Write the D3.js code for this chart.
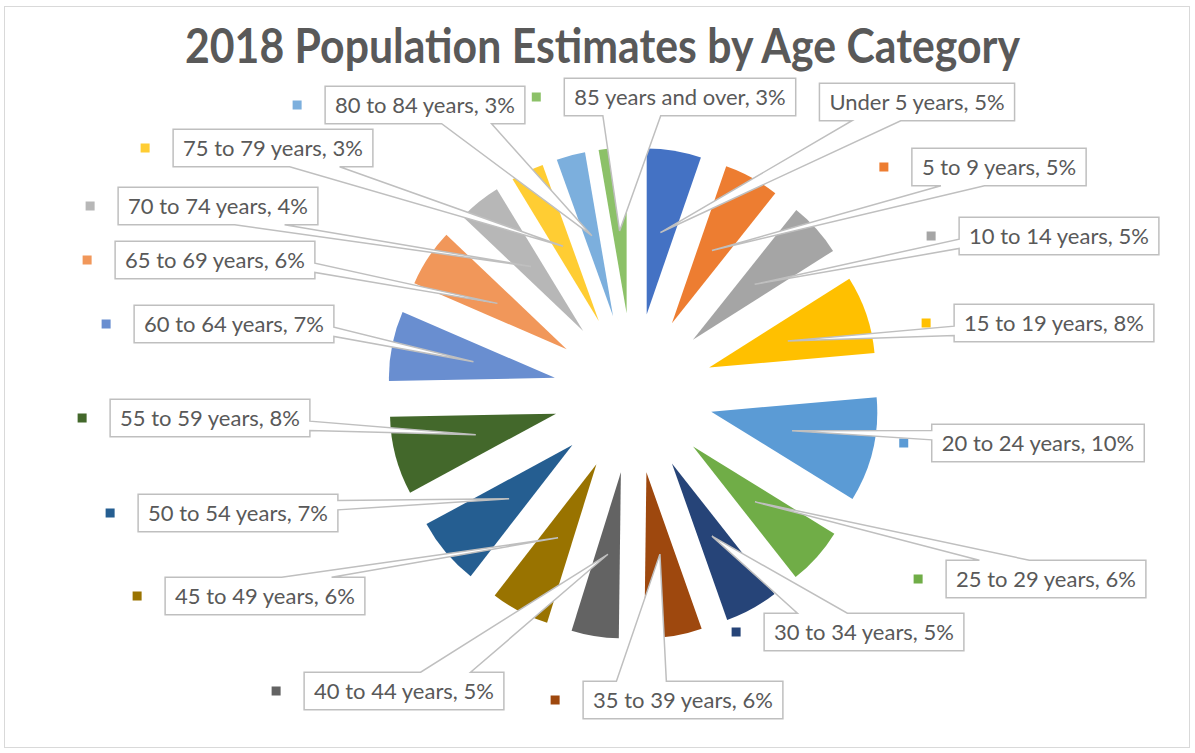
<!DOCTYPE html>
<html>
<head>
<meta charset="utf-8">
<script src="https://cdn.jsdelivr.net/npm/d3@7"></script>
<style>
  body { margin: 0; background: #fff; }
  svg { display: block; }
</style>
</head>
<body>
<svg width="1195" height="753"></svg>
<script>
// age groups, clockwise from 12 o'clock
var categories = ["Under 5 years", "5 to 9 years", "10 to 14 years", "15 to 19 years",
  "20 to 24 years", "25 to 29 years", "30 to 34 years", "35 to 39 years", "40 to 44 years",
  "45 to 49 years", "50 to 54 years", "55 to 59 years", "60 to 64 years", "65 to 69 years",
  "70 to 74 years", "75 to 79 years", "80 to 84 years", "85 years and over"];

// share of population, %
var shares = [5.3, 5.4, 5.3, 7.6, 10.2, 5.6, 5.2, 5.6, 4.6, 5.7, 6.6, 7.6, 6.8, 5.6, 4.2, 3.2, 2.8, 2.7];

var colors = ["#4472C4", "#ED7D31", "#A5A5A5", "#FFC000", "#5B9BD5", "#70AD47",
  "#264478", "#9E480E", "#636363", "#997300", "#255E91", "#43682B",
  "#698ED0", "#F1975A", "#B7B7B7", "#FFCD33", "#7CAFDD", "#8CC168"];

// centres of the dragged callout boxes
var labelPos = [[917, 102], [999, 167], [1059, 236], [1054, 323], [1038, 443], [1046, 579],
  [864, 632], [683, 700], [404, 691], [265, 596], [238, 513], [210, 418],
  [234, 324], [215, 260], [218, 206], [273, 148], [425, 105], [680, 97]];

window.onload = function() {
  var svg = d3.select("svg");
  var cx = 633.4, cy = 393.3;
  var radius = 166, explode = 80;
  var textGray = "#595959", lineGray = "#BFBFBF";

  // chart frame
  svg.append("rect")
    .attr("x", 4.5).attr("y", 6.5)
    .attr("width", 1185).attr("height", 741)
    .attr("fill", "#fff")
    .attr("stroke", "#D9D9D9");

  svg.append("text")
    .attr("x", 602.5)
    .attr("y", 63)
    .attr("text-anchor", "middle")
    .attr("font-family", "Lato, 'Open Sans', sans-serif")
    .attr("font-weight", "bold")
    .attr("font-size", 48)
    .attr("fill", textGray)
    .attr("textLength", 835)
    .attr("lengthAdjust", "spacingAndGlyphs")
    .text("2018 Population Estimates by Age Category");

  var data = categories.map(function(c, i) {
    return {name: c, value: shares[i], color: colors[i]};
  });
  var total = d3.sum(shares);

  var pie = d3.pie().sort(null).value(function(d) { return d.value; });
  var arc = d3.arc().innerRadius(0).outerRadius(radius);
  var arcs = pie(data);

  function mid(d) { return (d.startAngle + d.endAngle) / 2; }

  var g = svg.append("g").attr("transform", "translate(" + cx + "," + cy + ")");
  g.selectAll("path")
    .data(arcs)
    .enter().append("path")
    .attr("transform", function(d) {
      var a = mid(d);
      return "translate(" + (Math.sin(a) * explode) + "," + (-Math.cos(a) * explode) + ")";
    })
    .attr("d", arc)
    .attr("fill", function(d) { return d.data.color; });

  // rectangle with a wedge pointing at the slice (like Excel's wedgeRectCallout)
  function calloutPath(l, t, w, h, tip) {
    var r = l + w, b = t + h;
    var dxPos = tip[0] - (l + w / 2), dyPos = tip[1] - (t + h / 2);
    var side = Math.abs(dxPos * h) > Math.abs(dyPos * w);
    var x1 = l + w * (dxPos > 0 ? 7 : 2) / 12, x2 = l + w * (dxPos > 0 ? 10 : 5) / 12;
    var y1 = t + h * (dyPos > 0 ? 7 : 2) / 12, y2 = t + h * (dyPos > 0 ? 10 : 5) / 12;
    var p = d3.path();
    p.moveTo(l, t);
    if (!side && dyPos < 0) { p.lineTo(x1, t); p.lineTo(tip[0], tip[1]); p.lineTo(x2, t); }
    p.lineTo(r, t);
    if (side && dxPos > 0) { p.lineTo(r, y1); p.lineTo(tip[0], tip[1]); p.lineTo(r, y2); }
    p.lineTo(r, b);
    if (!side && dyPos > 0) { p.lineTo(x2, b); p.lineTo(tip[0], tip[1]); p.lineTo(x1, b); }
    p.lineTo(l, b);
    if (side && dxPos < 0) { p.lineTo(l, y2); p.lineTo(tip[0], tip[1]); p.lineTo(l, y1); }
    p.closePath();
    return p.toString();
  }

  var labels = svg.append("g")
    .attr("font-family", "Lato, 'Open Sans', sans-serif")
    .attr("font-size", 22);

  arcs.forEach(function(d, i) {
    var a = mid(d);
    var rr = explode + radius / 2;
    var tip = [cx + Math.sin(a) * rr, cy - Math.cos(a) * rr];
    var label = d.data.name + ", " + Math.round(d.value / total * 100) + "%";

    var grp = labels.append("g");
    var marker = grp.append("rect");
    var box = grp.append("path");
    var txt = grp.append("text")
      .attr("fill", textGray)
      .text(label);

    var tw = txt.node().getComputedTextLength();
    var w = tw + 20, h = 37.5;
    var l = labelPos[i][0] - w / 2, t = labelPos[i][1] - h / 2;

    box.attr("d", calloutPath(l, t, w, h, tip))
      .attr("fill", "#fff")
      .attr("stroke", lineGray)
      .attr("stroke-width", 1.5)
      .attr("stroke-linejoin", "miter");

    txt.attr("x", l + 10).attr("y", labelPos[i][1] + 8);

    marker.attr("x", l - 32.5)
      .attr("y", labelPos[i][1] - 4.5)
      .attr("width", 9)
      .attr("height", 9)
      .attr("fill", d.data.color);
  });
};
</script>
</body>
</html>
